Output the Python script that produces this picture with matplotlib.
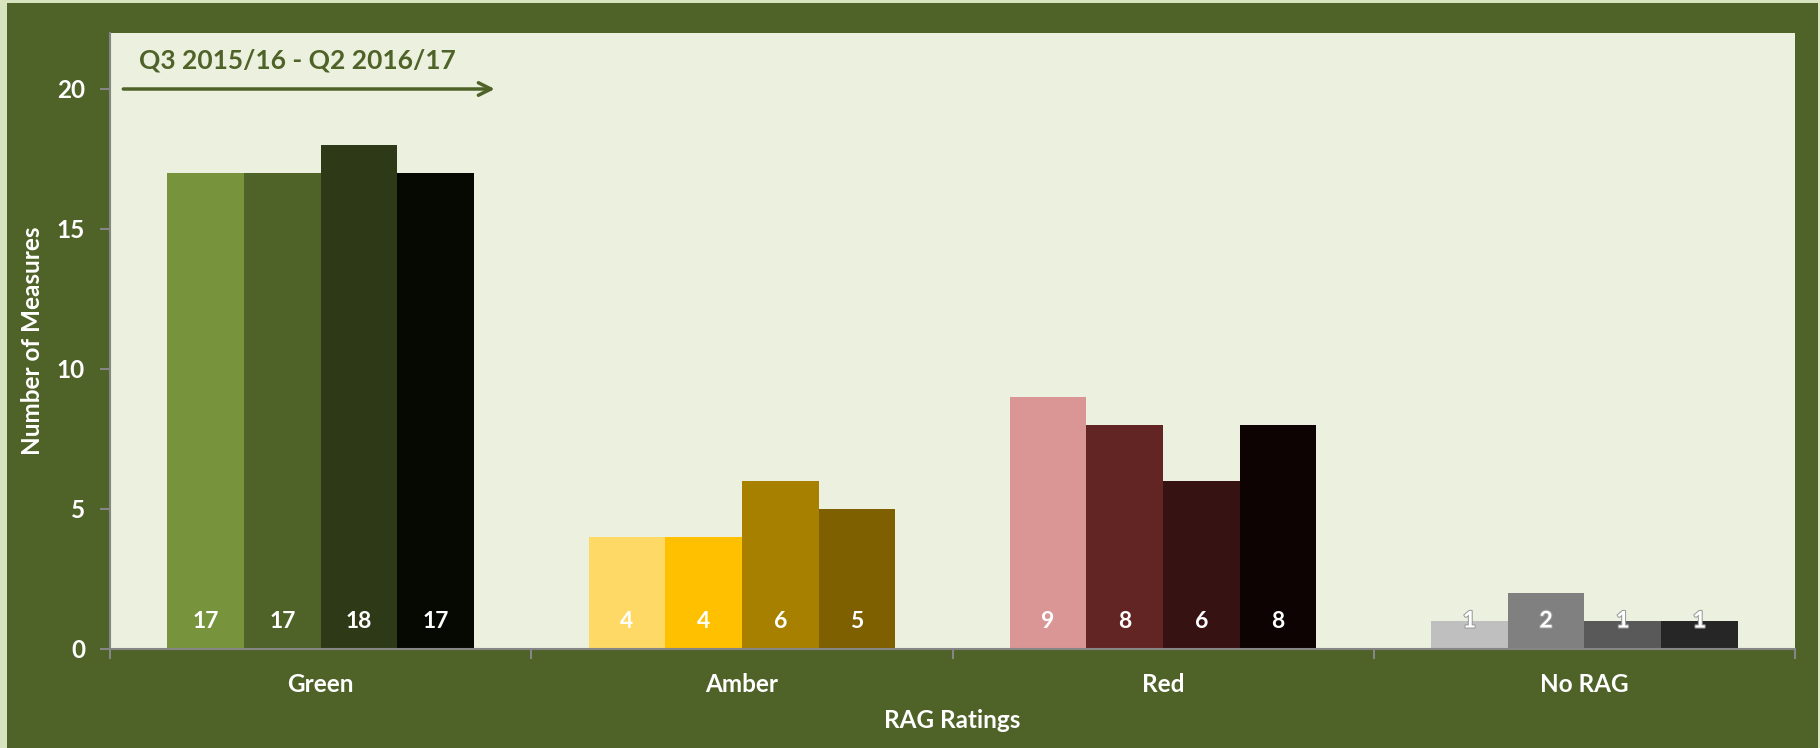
import numpy as np
import matplotlib
matplotlib.use("Agg")
import matplotlib.pyplot as plt
from matplotlib.patches import Rectangle
import matplotlib.patheffects as pe

plt.rcParams['font.family'] = ['Lato', 'DejaVu Sans']

categories = ["Green", "Amber", "Red", "No RAG"]
# four quarters Q3 2015/16 .. Q2 2016/17, one list per category
green_vals = [17, 17, 18, 17]
amber_vals = [4, 4, 6, 5]
red_vals = [9, 8, 6, 8]
norag_vals = [1, 2, 1, 1]
period_text = "Q3 2015/16 - Q2 2016/17"

values = [green_vals, amber_vals, red_vals, norag_vals]
colours = [
    ["#77933C", "#4F6228", "#2E3917", "#050902"],
    ["#FFD966", "#FFC000", "#A88000", "#7F6000"],
    ["#DA9694", "#632523", "#361213", "#0D0303"],
    ["#BFBFBF", "#808080", "#595959", "#262626"],
]

frame = "#4F6228"
W, H = 1820, 748
fig = plt.figure(figsize=(W / 100, H / 100), dpi=100, facecolor="#D7E4BD")
fig.patches.append(Rectangle((7 / W, 0), (1818 - 7) / W, (748 - 3) / H,
                             transform=fig.transFigure, facecolor=frame,
                             edgecolor="none", zorder=-10))

ax = fig.add_axes([110 / W, (H - 649) / H, (1795 - 110) / W, (649 - 33) / H])
ax.set_zorder(5)
ax.set_facecolor("#EBF1DE")

bw = 0.182
for c, (vals, cols) in enumerate(zip(values, colours)):
    for i, v in enumerate(vals):
        x = c + (i - 1.5) * bw
        ax.bar(x, v, width=bw, color=cols[i], zorder=2)
        txt = ax.text(x, 1.0, str(v), ha="center", va="center", color="white",
                      fontsize=16.5, fontweight="bold", zorder=3)
        if c == 3:
            txt.set_path_effects([pe.withStroke(linewidth=1.5, foreground="#9a9a9a")])

ax.set_xlim(-0.5, 3.5)
ax.set_ylim(0, 22)
ax.set_yticks([0, 5, 10, 15, 20])
ax.set_xticks(range(len(categories)))
ax.set_xticklabels(categories)
ax.set_xticks(np.arange(-0.5, 4.0, 1.0), minor=True)

for s in ["top", "right"]:
    ax.spines[s].set_visible(False)
for s in ["left", "bottom"]:
    ax.spines[s].set_color("#868686")
    ax.spines[s].set_linewidth(1.5)

ax.tick_params(axis="y", colors="#868686", length=7, width=1.5, pad=11,
               labelcolor="white", labelsize=17.5)
ax.tick_params(axis="x", which="major", length=0, pad=17,
               labelcolor="white", labelsize=17.5)
ax.tick_params(axis="x", which="minor", length=7, width=1.5, colors="#868686")
for lab in ax.get_xticklabels() + ax.get_yticklabels():
    lab.set_fontweight("bold")

ax.set_ylabel("Number of Measures", color="white", fontsize=17.5,
              fontweight="bold", labelpad=9)
ax.set_xlabel("RAG Ratings", color="white", fontsize=17.5,
              fontweight="bold", labelpad=10)

ax.annotate("", xy=(0.42, 20), xytext=(-0.475, 20),
            arrowprops=dict(arrowstyle="->,head_length=0.9,head_width=0.45",
                            color=frame, lw=2.5), zorder=4)
ax.text(-0.43, 21.0, period_text, color=frame, fontsize=19,
        fontweight="bold", ha="left", va="center")

fig.savefig("out.png", dpi=100, facecolor=fig.get_facecolor())
